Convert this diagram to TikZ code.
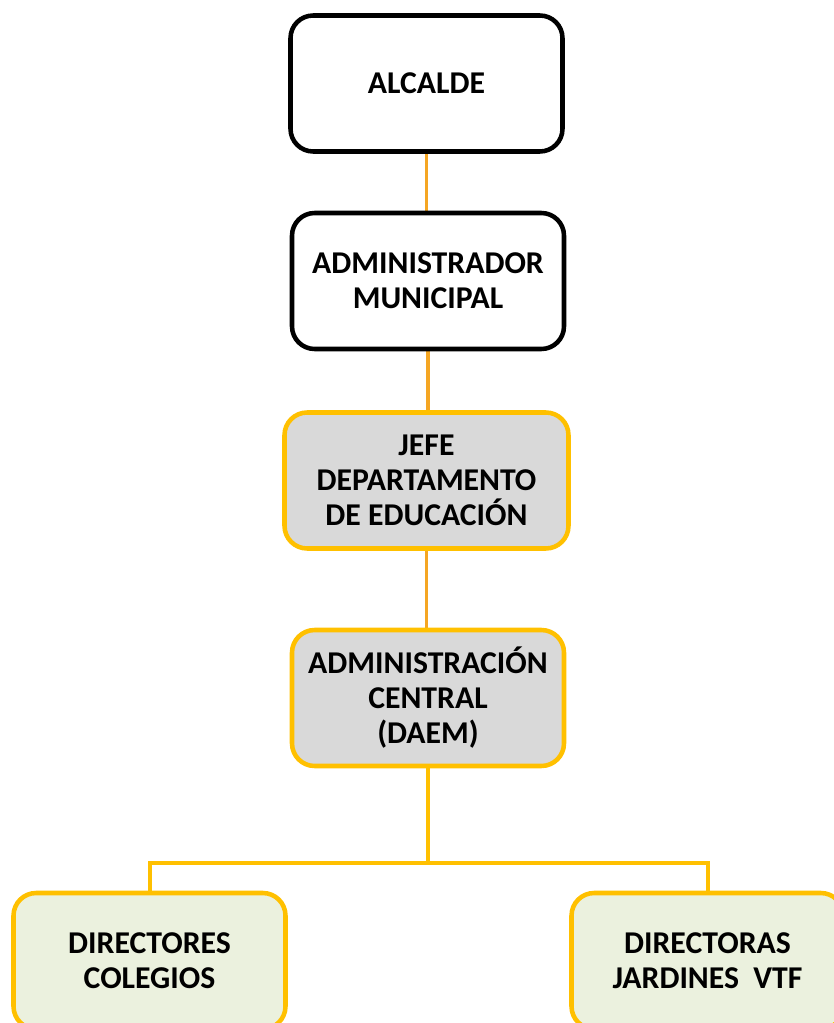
\documentclass[tikz,border=0pt]{standalone}
\usepackage{fontspec}
\setmainfont{Carlito}
\usetikzlibrary{backgrounds}
\definecolor{gold}{HTML}{FFC000}
\definecolor{conn}{HTML}{F5A623}
\definecolor{boxgray}{HTML}{D9D9D9}
\definecolor{boxgreen}{HTML}{EBF1DE}
\tikzset{
  orgbox/.style={rectangle, rounded corners=17pt, line width=3.4pt,
    minimum width=204pt, minimum height=102pt, align=center, inner sep=0pt,
    font=\fontsize{23.8}{26.25}\selectfont\bfseries, text=black},
  topbox/.style={orgbox, draw=black, fill=white},
  midbox/.style={orgbox, draw=gold, fill=boxgray},
  lowbox/.style={orgbox, draw=gold, fill=boxgreen},
  upline/.style={draw=conn, line width=2.3pt},
  lowline/.style={draw=gold, line width=3pt},
}
\begin{document}
\begin{tikzpicture}[x=0.75pt,y=-0.75pt]
\useasboundingbox (0,0) rectangle (834,1023);
\clip (0,0) rectangle (834,1023);
\node[topbox] (alc) at (426.5,83.5) {ALCALDE};
\node[topbox] (adm) at (428,281) {ADMINISTRADOR\\MUNICIPAL};
\node[midbox, minimum width=213pt] (jefe) at (426.5,480.5) {JEFE\\DEPARTAMENTO\\DE EDUCACIÓN};
\node[midbox] (adc) at (428,698) {ADMINISTRACIÓN\\CENTRAL\\(DAEM)};
\node[lowbox] (dc) at (149.5,961) {DIRECTORES\\COLEGIOS};
\node[lowbox] (dj) at (707.5,961) {DIRECTORAS\\JARDINES~~VTF};
\coordinate (bar) at (428,863);
\begin{scope}[on background layer]
\draw[upline] (alc.south) -- (alc.south |- adm.north);
\draw[upline] (adm.south) -- (adm.south |- jefe.north);
\draw[upline] (jefe.south) -- (jefe.south |- adc.north);
\draw[lowline] (adc.south) -- (bar);
\draw[lowline] (dc.north) |- (bar) -| (dj.north);
\end{scope}
\end{tikzpicture}
\end{document}
